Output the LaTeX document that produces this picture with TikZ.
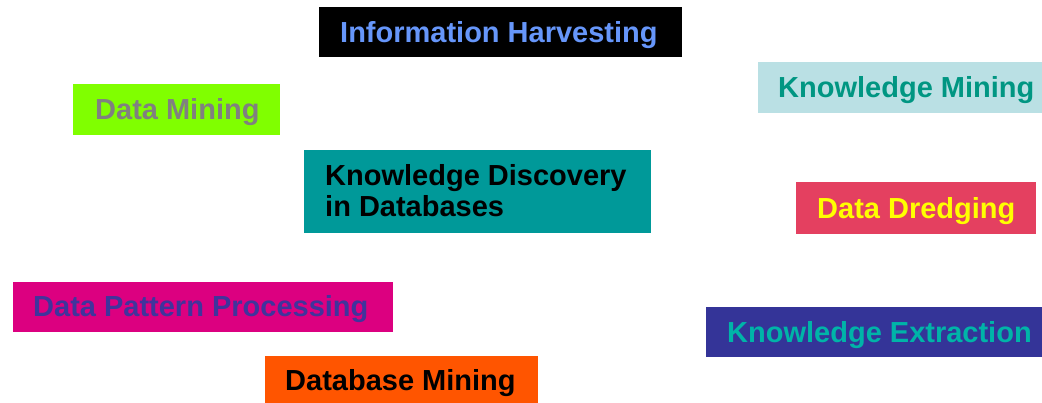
\documentclass[tikz,border=0pt]{standalone}
\usepackage{fontspec}
\setmainfont{Liberation Sans}
\definecolor{cIHt}{RGB}{102,150,250}
\definecolor{cKMb}{RGB}{186,224,228}
\definecolor{cKMt}{RGB}{0,150,130}
\definecolor{cDMb}{RGB}{128,255,0}
\definecolor{cDMt}{RGB}{128,128,128}
\definecolor{cKDb}{RGB}{0,153,153}
\definecolor{cDDb}{RGB}{228,64,96}
\definecolor{cDDt}{RGB}{255,255,0}
\definecolor{cDPb}{RGB}{220,0,128}
\definecolor{cDPt}{RGB}{64,52,156}
\definecolor{cKEb}{RGB}{52,52,152}
\definecolor{cKEt}{RGB}{0,180,168}
\definecolor{cDBb}{RGB}{255,85,0}
\begin{document}
\begin{tikzpicture}[x=1pt,y=-1pt,
  box/.style={draw=none,inner sep=0pt,anchor=north west},
  lbl/.style={inner sep=0pt,anchor=west,font=\bfseries\fontsize{29}{31}\selectfont,text height=21pt,text depth=0pt},
  lbl2/.style={inner sep=0pt,anchor=west,font=\bfseries\fontsize{29}{31}\selectfont,align=left}]
\useasboundingbox (0,0) rectangle (1042,403);
% Information Harvesting
\node[box,fill=black,minimum width=363pt,minimum height=50pt] (ihb) at (319,7) {};
\node[lbl,text=cIHt] (iht) at ([xshift=21pt]ihb.west) {Information Harvesting};
% Knowledge Mining
\node[box,fill=cKMb,minimum width=284pt,minimum height=51pt] (kmb) at (758,62) {};
\node[lbl,text=cKMt] (kmt) at ([xshift=20pt,yshift=1pt]kmb.west) {Knowledge Mining};
% Data Mining
\node[box,fill=cDMb,minimum width=207pt,minimum height=51pt] (dmb) at (73,84) {};
\node[lbl,text=cDMt] (dmt) at ([xshift=22pt,yshift=1pt]dmb.west) {Data Mining};
% KDD
\node[box,fill=cKDb,minimum width=347pt,minimum height=83pt] (kdb) at (304,150) {};
\node[lbl2,text=black] (kdt) at ([xshift=21pt,yshift=1pt]kdb.west) {Knowledge Discovery\\in Databases};
% Data Dredging
\node[box,fill=cDDb,minimum width=240pt,minimum height=52pt] (ddb) at (796,182) {};
\node[lbl,text=cDDt] (ddt) at ([xshift=21pt]ddb.west) {Data Dredging};
% Data Pattern Processing
\node[box,fill=cDPb,minimum width=380pt,minimum height=50pt] (dpb) at (13,282) {};
\node[lbl,text=cDPt] (dpt) at ([xshift=20pt,yshift=1pt]dpb.west) {Data Pattern Processing};
% Knowledge Extraction
\node[box,fill=cKEb,minimum width=336pt,minimum height=50pt] (keb) at (706,307) {};
\node[lbl,text=cKEt] (ket) at ([xshift=21pt]keb.west) {Knowledge Extraction};
% Database Mining
\node[box,fill=cDBb,minimum width=273pt,minimum height=47pt] (dbb) at (265,356) {};
\node[lbl,text=black] (dbt) at ([xshift=20pt]dbb.west) {Database Mining};
\end{tikzpicture}
\end{document}
